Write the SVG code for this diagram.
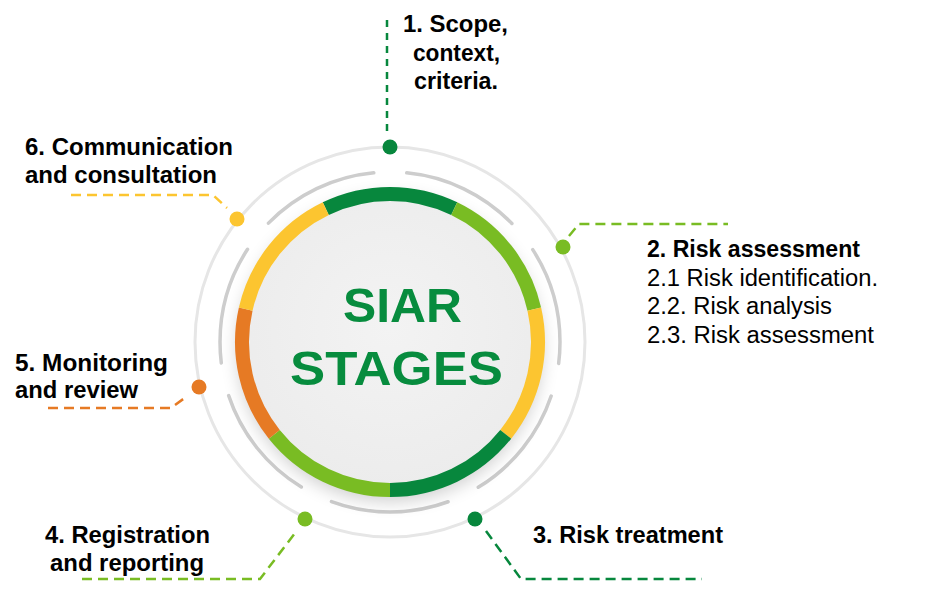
<svg xmlns="http://www.w3.org/2000/svg" width="944" height="607" viewBox="0 0 944 607">
<defs>
<style>
.lbl{font-family:"Liberation Sans",Arial,sans-serif;font-size:23px;font-weight:bold;fill:#000}
.sub{font-family:"Liberation Sans",Arial,sans-serif;font-size:23px;font-weight:normal;fill:#000}
.title{font-family:"Liberation Sans",Arial,sans-serif;font-size:49px;font-weight:bold;fill:#078c3e;text-anchor:middle}
.seg{fill:none;stroke-width:14}
.con{fill:none;stroke-width:2.5;stroke-dasharray:10 6}
.dg{stroke:#07873d}.lg{stroke:#79bc23}.ye{stroke:#fcc530}.or{stroke:#e67a24}
</style>
<filter id="sh" x="-30%" y="-30%" width="160%" height="160%"><feGaussianBlur stdDeviation="9"/></filter>
<radialGradient id="disc" cx="50%" cy="45%" r="55%"><stop offset="0" stop-color="#f3f3f3"/><stop offset="1" stop-color="#ececec"/></radialGradient>
</defs>
<rect width="944" height="607" fill="#fff"/>
<g id="hub">
<circle cx="390" cy="342" r="195" fill="none" stroke="#e6e6e6" stroke-width="3"/>
<circle cx="390" cy="342" r="170" fill="none" stroke="#cdcdcd" stroke-width="3.5" stroke-linecap="round" stroke-dasharray="119.1 33.5" stroke-dashoffset="135.85" transform="rotate(-90 390 342)"/>
<circle cx="390" cy="349" r="152" fill="#000" opacity="0.2" filter="url(#sh)"/>
<circle cx="390" cy="342" r="148" fill="url(#disc)"/>
<path class="seg dg" d="M325.79,208.66 A148,148 0 0 1 454.21,208.66"/>
<path class="seg lg" d="M454.21,208.66 A148,148 0 0 1 534.29,309.07"/>
<path class="seg ye" d="M534.29,309.07 A148,148 0 0 1 505.71,434.28"/>
<path class="seg dg" d="M505.71,434.28 A148,148 0 0 1 390,490"/>
<path class="seg lg" d="M390,490 A148,148 0 0 1 274.29,434.28"/>
<path class="seg or" d="M274.29,434.28 A148,148 0 0 1 245.71,309.07"/>
<path class="seg ye" d="M245.71,309.07 A148,148 0 0 1 325.79,208.66"/>
<text class="title" x="402.5" y="322" textLength="119" lengthAdjust="spacingAndGlyphs">SIAR</text>
<text class="title" x="396.5" y="385" textLength="213" lengthAdjust="spacingAndGlyphs">STAGES</text>
</g>
<g id="connectors">
<path class="con dg" style="stroke-dasharray:7 6" d="M387,20 V134"/>
<path class="con lg" d="M569,236 L579,224 H728"/>
<path class="con dg" d="M486,531 L521,579 H702"/>
<path class="con lg" d="M82,579 H260 L295,533"/>
<path class="con or" d="M48,408 H171 L186,397"/>
<path class="con ye" d="M71,195 H213 L227,208"/>
</g>
<g id="node-1">
<circle cx="390" cy="147" r="7.5" fill="#07873d"/>
<text class="lbl" x="403" y="32" textLength="105" lengthAdjust="spacingAndGlyphs">1. Scope,</text>
<text class="lbl" x="413" y="61" textLength="87" lengthAdjust="spacingAndGlyphs">context,</text>
<text class="lbl" x="414" y="89" textLength="84" lengthAdjust="spacingAndGlyphs">criteria.</text>
</g>
<g id="node-2">
<circle cx="563" cy="247" r="7.5" fill="#79bc23"/>
<text class="lbl" x="647" y="257" textLength="213" lengthAdjust="spacingAndGlyphs">2. Risk assessment</text>
<text class="sub" x="647" y="286" textLength="231" lengthAdjust="spacingAndGlyphs">2.1 Risk identification.</text>
<text class="sub" x="647" y="314" textLength="185" lengthAdjust="spacingAndGlyphs">2.2. Risk analysis</text>
<text class="sub" x="647" y="343" textLength="227" lengthAdjust="spacingAndGlyphs">2.3. Risk assessment</text>
</g>
<g id="node-3">
<circle cx="475" cy="519" r="7.5" fill="#07873d"/>
<text class="lbl" x="533" y="543" textLength="190" lengthAdjust="spacingAndGlyphs">3. Risk treatment</text>
</g>
<g id="node-4">
<circle cx="305" cy="519" r="7.5" fill="#79bc23"/>
<text class="lbl" x="45" y="543" textLength="165" lengthAdjust="spacingAndGlyphs">4. Registration</text>
<text class="lbl" x="50" y="571" textLength="154" lengthAdjust="spacingAndGlyphs">and reporting</text>
</g>
<g id="node-5">
<circle cx="199" cy="387" r="7.5" fill="#e67a24"/>
<text class="lbl" x="15" y="371" textLength="153" lengthAdjust="spacingAndGlyphs">5. Monitoring</text>
<text class="lbl" x="15" y="398" textLength="123" lengthAdjust="spacingAndGlyphs">and review</text>
</g>
<g id="node-6">
<circle cx="237" cy="219" r="7.5" fill="#fcc530"/>
<text class="lbl" x="25" y="155" textLength="208" lengthAdjust="spacingAndGlyphs">6. Communication</text>
<text class="lbl" x="25" y="183" textLength="192" lengthAdjust="spacingAndGlyphs">and consultation</text>
</g>
</svg>
